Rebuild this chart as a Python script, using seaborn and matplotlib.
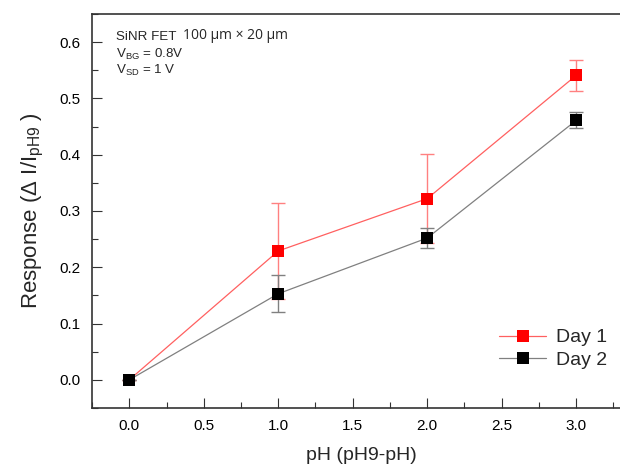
import numpy as np
import pandas as pd
import matplotlib
matplotlib.use("Agg")
import matplotlib.pyplot as plt
import seaborn as sns
from matplotlib.ticker import MultipleLocator

# data
ph = [0, 1, 2, 3]
day1 = [0.0, 0.229, 0.322, 0.541]
day1_err = [0.0, 0.086, 0.079, 0.027]
day2 = [0.0, 0.153, 0.252, 0.461]
day2_err = [0.0, 0.033, 0.018, 0.014]

sns.set_theme(style="ticks")
plt.rcParams['font.family'] = ['Liberation Sans', 'DejaVu Sans']
plt.rcParams['mathtext.fontset'] = 'custom'
plt.rcParams['mathtext.rm'] = 'Liberation Sans'
plt.rcParams['mathtext.it'] = 'Liberation Sans'

df = pd.DataFrame({"pH": ph * 2,
                   "resp": day1 + day2,
                   "day": ["Day 1"] * 4 + ["Day 2"] * 4})

fig = plt.figure(figsize=(6.2, 4.68), dpi=100)
ax = fig.add_axes([0.1484, 0.1282, 0.8675, 0.8419])

# error bars first (lighter), then lines and markers
ax.errorbar(ph, day1, yerr=day1_err, fmt="none", ecolor="#ff8080",
            elinewidth=1, capsize=5, capthick=1, zorder=1)
ax.errorbar(ph, day2, yerr=day2_err, fmt="none", ecolor="#808080",
            elinewidth=1, capsize=5, capthick=1, zorder=1)

sns.lineplot(data=df, x="pH", y="resp", hue="day",
             palette={"Day 1": "#ff6060", "Day 2": "#808080"},
             linewidth=0.9, marker="s", markersize=9, markeredgewidth=0,
             ax=ax, zorder=2)

# markers in full colour
for line in ax.lines:
    if line.get_color() == "#ff6060":
        line.set_markerfacecolor("#ff0000")
        line.set_markeredgecolor("#ff0000")
    elif line.get_color() == "#808080":
        line.set_markerfacecolor("#000000")
        line.set_markeredgecolor("#000000")

ax.set_xlim(-0.25, 3.36)
ax.set_ylim(-0.05, 0.65)
ax.xaxis.set_major_locator(MultipleLocator(0.5))
ax.xaxis.set_minor_locator(MultipleLocator(0.25))
ax.yaxis.set_major_locator(MultipleLocator(0.1))
ax.yaxis.set_minor_locator(MultipleLocator(0.05))
ax.tick_params(which="major", direction="in", length=7, width=0.8,
               labelsize=11, colors="#333333", labelcolor="black", pad=8)
ax.tick_params(which="minor", direction="in", length=4, width=0.8,
               colors="#333333")
ax.tick_params(axis="x", top=False)
ax.tick_params(axis="y", right=False)
for s in ax.spines.values():
    s.set_color("#333333")
    s.set_linewidth(1.2)

ax.set_xlabel("pH (pH9-pH)", fontsize=14, labelpad=10)
ax.set_ylabel(r"Response ($\Delta$ I/I$_\mathregular{pH9}$ )", fontsize=16, labelpad=10)

ax.text(0.045, 0.942, "SiNR FET", transform=ax.transAxes, fontsize=9.6, va="center")
ax.text(0.17, 0.945, "100 µm × 20 µm", transform=ax.transAxes, fontsize=10,
        va="center", family=["Open Sans", "DejaVu Sans"])
ax.text(0.045, 0.897, r"V$_\mathregular{BG}$ = 0.8V", transform=ax.transAxes,
        fontsize=9.6, va="center")
ax.text(0.045, 0.857, r"V$_\mathregular{SD}$ = 1 V", transform=ax.transAxes,
        fontsize=9.6, va="center")

leg = ax.legend(loc="lower right", bbox_to_anchor=(0.99, 0.055), frameon=False,
                fontsize=14, handlelength=2.4, handletextpad=0.5,
                labelspacing=0.25, title=None)

fig.savefig("out.png", dpi=100)
